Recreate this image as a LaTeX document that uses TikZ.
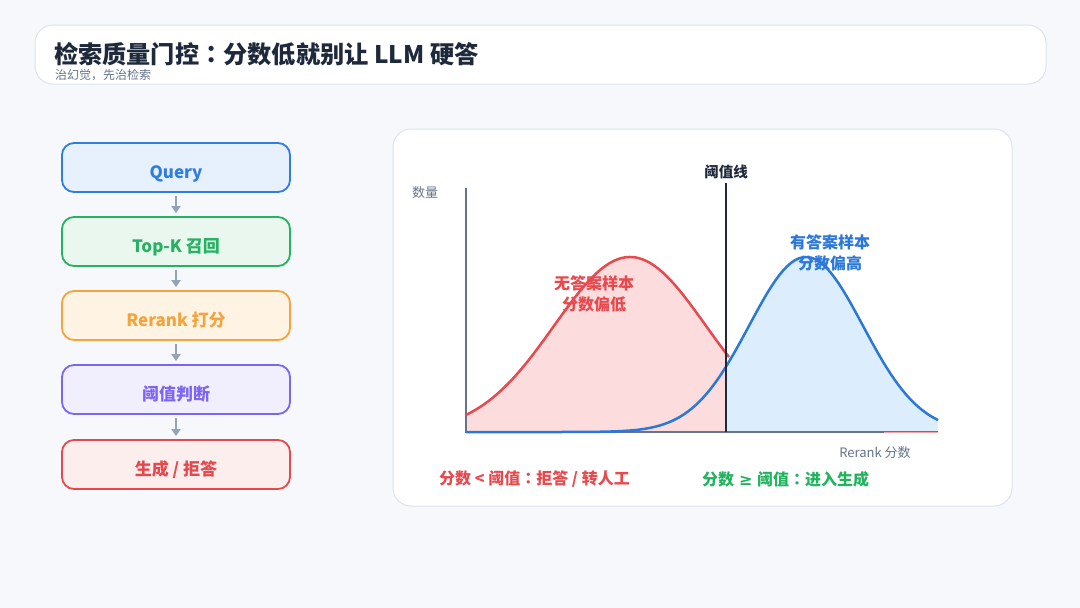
\documentclass[tikz,border=0pt]{standalone}
\usepackage{fontspec}
\setmainfont{Noto Sans CJK SC}
\newfontfamily\jpfont{Noto Sans CJK JP}
\newfontfamily\symfont{DejaVu Sans}
\newcommand{\cjcolon}{{\jpfont ：}}
\usetikzlibrary{arrows.meta}
\definecolor{bgc}{HTML}{F6F8FB}
\definecolor{titlec}{HTML}{1E293B}
\definecolor{subc}{HTML}{64748B}
\definecolor{panelb}{HTML}{DCE4EE}
\definecolor{qblue}{HTML}{2F7DE0}
\definecolor{qbluef}{HTML}{E7F1FD}
\definecolor{kgreen}{HTML}{27B163}
\definecolor{kgreenf}{HTML}{E9F7EE}
\definecolor{rorange}{HTML}{F5A33C}
\definecolor{rorangef}{HTML}{FFF4E4}
\definecolor{jpurple}{HTML}{7A66F2}
\definecolor{jpurplef}{HTML}{F1EFFE}
\definecolor{gred}{HTML}{E5484D}
\definecolor{gredf}{HTML}{FDEEEE}
\definecolor{arrowc}{HTML}{94A3B8}
\definecolor{axisc}{HTML}{64748B}
\definecolor{redfill}{HTML}{FDDCDD}
\definecolor{bluefill}{HTML}{DCEEFD}
\definecolor{curveblue}{HTML}{2B78D8}
\definecolor{curvered}{HTML}{E8494E}
\definecolor{okgreen}{HTML}{22B35E}
\tikzset{
  fs/.style={font=\fontsize{#1}{#1}\selectfont},
  bfs/.style={font=\fontsize{#1}{#1}\selectfont\bfseries},
  stepbox/.style={draw=#1, line width=1.8pt, rounded corners=12pt, minimum width=228pt, minimum height=49pt, text=#1, font=\fontsize{17}{17}\selectfont\bfseries, inner sep=0pt, text height=21pt, text depth=0pt},
  flowarrow/.style={draw=arrowc, line width=2pt, -{Triangle[length=7pt,width=9pt]}, shorten <=3pt, shorten >=3pt},
}
\begin{document}
\begin{tikzpicture}[x=1pt,y=-1pt]
\useasboundingbox (0,0) rectangle (1080,608);
\fill[bgc] (0,0) rectangle (1080,608);
% title
\draw[panelb, fill=white, line width=1pt, rounded corners=18pt] (35,25) rectangle (1046,84);
\node[anchor=west, text=titlec, bfs=24.2, inner sep=0pt] (title) at (54,54) {检索质量门控\cjcolon 分数低就别让 LLM 硬答};
\node[anchor=west, text=subc, fs=12, inner sep=0pt] (sub) at (55,75) {治幻觉，先治检索};
% flow boxes
\node[stepbox=qblue, fill=qbluef] (q) at (176,167.5) {Query};
\node[stepbox=kgreen, fill=kgreenf] (k) at (176,241.5) {Top-K 召回};
\node[stepbox=rorange, fill=rorangef] (r) at (176,315.5) {Rerank 打分};
\node[stepbox=jpurple, fill=jpurplef] (j) at (176,389.5) {阈值判断};
\node[stepbox=gred, fill=gredf] (g) at (176,464.5) {生成 / 拒答};
\draw[flowarrow] (q.south) -- (k.north);
\draw[flowarrow] (k.south) -- (r.north);
\draw[flowarrow] (r.south) -- (j.north);
\draw[flowarrow] (j.south) -- (g.north);
% chart panel
\draw[panelb, fill=white, line width=1pt, rounded corners=18pt] (393,129) rectangle (1012,506);
% fills
\fill[bluefill] (466,432) -- plot[domain=466:938, samples=120] (\x, {432-175*exp(-0.5*((\x-806)/57)^2)}) -- (938,432) -- cycle;
\fill[redfill] (466,432) -- plot[domain=466:727, samples=80] (\x, {432-175*exp(-0.5*((\x-630)/76)^2)}) -- (727,432) -- cycle;
% axes
\coordinate (o) at (466,432);
\coordinate (ytop) at (466,188);
\coordinate (xend) at (938,432);
\draw[axisc, line width=1.5pt] (ytop) -- (o) -- (xend);
\draw[curvered!50, line width=1pt] (884,432) -- (xend);
% curves
\draw[curvered, line width=2.5pt, line join=round] plot[domain=466:729, samples=80] (\x, {432-175*exp(-0.5*((\x-630)/76)^2)});
\draw[curveblue, line width=2.5pt, line join=round] plot[domain=466:938, samples=120] (\x, {432-175*exp(-0.5*((\x-806)/57)^2)});
% threshold
\coordinate (tt) at (726,183);
\coordinate (tb) at (726,432);
\draw[titlec, line width=1.8pt] (tt) -- (tb);
\node[text=titlec, bfs=14.5, anchor=south, inner sep=0pt] (thr) at (726,179) {阈值线};
\node[text=subc, fs=13, inner sep=0pt] (ylab) at (425,193) {数量};
\node[text=subc, fs=13, inner sep=0pt] (xlab) at (875,453) {Rerank 分数};
\node[text=curvered, bfs=16, align=center, inner sep=0pt] (nolab) at (594,294) {无答案样本\\[5pt]分数偏低};
\node[text=curveblue, bfs=16, align=center, inner sep=0pt] (yeslab) at (830,253) {有答案样本\\[5pt]分数偏高};
\node[text=curvered, bfs=16, anchor=west, inner sep=0pt] (rule1) at (439,479) {分数 < 阈值\cjcolon 拒答 / 转人工};
\node[text=okgreen, bfs=16, anchor=west, inner sep=0pt] (rule2) at (702,479) {分数\hspace{0.3em}{\symfont ≥}\hspace{0.3em}阈值\cjcolon 进入生成};
\end{tikzpicture}
\end{document}
